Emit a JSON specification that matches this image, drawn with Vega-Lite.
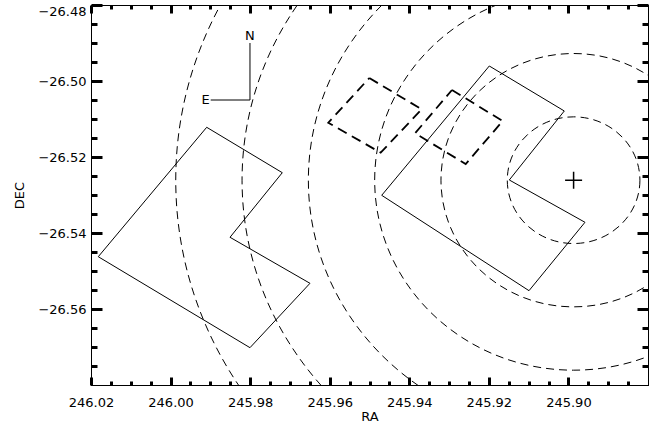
{
  "$schema": "https://vega.github.io/schema/vega-lite/v6.json",
  "width": 557,
  "height": 380,
  "autosize": "none",
  "padding": {"left": 91, "top": 5, "right": 6, "bottom": 38},
  "background": "white",
  "config": {
    "view": {"stroke": "black", "strokeWidth": 1},
    "axis": {
      "grid": false,
      "labelColor": "black",
      "titleColor": "black",
      "labelFont": "DejaVu Sans",
      "titleFont": "DejaVu Sans",
      "labelFontSize": 13,
      "titleFontSize": 13,
      "titleFontWeight": "normal",
      "labelOverlap": false
    }
  },
  "datasets": {
    "wfpc": [
      {"id": "left", "i": 0, "ra": 246.01817, "dec": -26.54624},
      {"id": "left", "i": 1, "ra": 245.99092, "dec": -26.51218},
      {"id": "left", "i": 2, "ra": 245.97192, "dec": -26.52413},
      {"id": "left", "i": 3, "ra": 245.98506, "dec": -26.54113},
      {"id": "left", "i": 4, "ra": 245.96496, "dec": -26.55324},
      {"id": "left", "i": 5, "ra": 245.98004, "dec": -26.57018},
      {"id": "left", "i": 6, "ra": 246.01817, "dec": -26.54624},
      {"id": "right", "i": 0, "ra": 245.94693, "dec": -26.53008},
      {"id": "right", "i": 1, "ra": 245.91989, "dec": -26.49605},
      {"id": "right", "i": 2, "ra": 245.90104, "dec": -26.50789},
      {"id": "right", "i": 3, "ra": 245.91486, "dec": -26.52605},
      {"id": "right", "i": 4, "ra": 245.89584, "dec": -26.53718},
      {"id": "right", "i": 5, "ra": 245.90991, "dec": -26.55518},
      {"id": "right", "i": 6, "ra": 245.94693, "dec": -26.53008}
    ],
    "boxes": [
      {"id": "A", "i": 0, "ra": 245.95005, "dec": -26.49921},
      {"id": "A", "i": 1, "ra": 245.93688, "dec": -26.50745},
      {"id": "A", "i": 2, "ra": 245.94719, "dec": -26.51887},
      {"id": "A", "i": 3, "ra": 245.96036, "dec": -26.51097},
      {"id": "A", "i": 4, "ra": 245.95005, "dec": -26.49921},
      {"id": "B", "i": 0, "ra": 245.92927, "dec": -26.50237},
      {"id": "B", "i": 1, "ra": 245.91652, "dec": -26.51053},
      {"id": "B", "i": 2, "ra": 245.92582, "dec": -26.52184},
      {"id": "B", "i": 3, "ra": 245.93856, "dec": -26.51376},
      {"id": "B", "i": 4, "ra": 245.92927, "dec": -26.50237}
    ],
    "circles": [
      {"ra": 245.8987, "dec": -26.5261, "r": 0.016667},
      {"ra": 245.8987, "dec": -26.5261, "r": 0.033333},
      {"ra": 245.8987, "dec": -26.5261, "r": 0.05},
      {"ra": 245.8987, "dec": -26.5261, "r": 0.066667},
      {"ra": 245.8987, "dec": -26.5261, "r": 0.083333},
      {"ra": 245.8987, "dec": -26.5261, "r": 0.1}
    ],
    "center": [
      {"ra": 245.8987, "dec": -26.5261}
    ],
    "compassLines": [
      {"ra": 245.98004, "dec": -26.49, "ra2": 245.98004, "dec2": -26.505},
      {"ra": 245.98991, "dec": -26.505, "ra2": 245.98004, "dec2": -26.505}
    ],
    "compassLabels": [
      {"label": "N", "ra": 245.98004, "dec": -26.48803},
      {"label": "E", "ra": 245.98991, "dec": -26.505}
    ]
  },
  "layer": [
    {
      "data": {"name": "wfpc"},
      "mark": {"type": "line", "stroke": "black", "strokeWidth": 1, "clip": true},
      "encoding": {
        "x": {
          "field": "ra", "type": "quantitative",
          "scale": {"domain": [245.88, 246.02], "reverse": true, "nice": false, "zero": false},
          "axis": {
            "orient": "bottom",
            "values": [246.02, 246.0, 245.98, 245.96, 245.94, 245.92, 245.9],
            "format": ".2f",
            "domainColor": "black",
            "tickColor": "black",
            "tickWidth": 3,
            "tickSize": -8,
            "labelPadding": 19,
            "labelFlush": false,
            "title": "RA",
            "titlePadding": 1
          }
        },
        "y": {
          "field": "dec", "type": "quantitative",
          "scale": {"domain": [-26.58, -26.48], "nice": false, "zero": false},
          "axis": {
            "orient": "left",
            "values": [-26.56, -26.54, -26.52, -26.5, -26.48],
            "format": ".2f",
            "domainColor": "black",
            "tickColor": "black",
            "tickWidth": 3,
            "tickSize": -11,
            "labelPadding": 16,
            "labelFlush": true,
            "title": "DEC",
            "titlePadding": 11
          }
        },
        "detail": {"field": "id"},
        "order": {"field": "i", "type": "quantitative"}
      }
    },
    {
      "data": {"name": "boxes"},
      "mark": {"type": "line", "stroke": "black", "strokeWidth": 1.8, "strokeDash": [10, 6], "clip": true},
      "encoding": {
        "x": {
          "field": "ra", "type": "quantitative",
          "axis": {
            "orient": "bottom",
            "values": [246.015, 246.01, 246.005, 245.995, 245.99, 245.985, 245.975, 245.97, 245.965, 245.955, 245.95, 245.945, 245.935, 245.93, 245.925, 245.915, 245.91, 245.905, 245.895, 245.89, 245.885],
            "domainColor": "black",
            "tickColor": "black",
            "tickWidth": 3,
            "tickSize": -4,
            "labels": false,
            "title": null
          }
        },
        "y": {
          "field": "dec", "type": "quantitative",
          "axis": {
            "orient": "left",
            "values": [-26.575, -26.57, -26.565, -26.555, -26.55, -26.545, -26.535, -26.53, -26.525, -26.515, -26.51, -26.505, -26.495, -26.49, -26.485],
            "domainColor": "black",
            "tickColor": "black",
            "tickWidth": 3,
            "tickSize": -6,
            "labels": false,
            "title": null
          }
        },
        "detail": {"field": "id"},
        "order": {"field": "i", "type": "quantitative"}
      }
    },
    {
      "data": {"name": "circles"},
      "mark": {
        "type": "point",
        "shape": "M1.047,0C1.047,0.5523,0.5783,1,0,1C-0.5783,1,-1.047,0.5523,-1.047,0C-1.047,-0.5523,-0.5783,-1,0,-1C0.5783,-1,1.047,-0.5523,1.047,0Z",
        "filled": false,
        "stroke": "black",
        "strokeWidth": 1,
        "strokeDash": [8, 5],
        "opacity": 1,
        "clip": true
      },
      "encoding": {
        "x": {
          "field": "ra", "type": "quantitative",
          "axis": {
            "orient": "top",
            "values": [246.02, 246.0, 245.98, 245.96, 245.94, 245.92, 245.9],
            "domainColor": "black",
            "tickColor": "black",
            "tickWidth": 3,
            "tickSize": -8,
            "labels": false,
            "title": null
          }
        },
        "y": {
          "field": "dec", "type": "quantitative",
          "axis": {
            "orient": "right",
            "values": [-26.56, -26.54, -26.52, -26.5, -26.48],
            "domainColor": "black",
            "tickColor": "black",
            "tickWidth": 3,
            "tickSize": -11,
            "labels": false,
            "title": null
          }
        },
        "size": {
          "field": "r", "type": "quantitative",
          "scale": {"type": "pow", "exponent": 2, "domain": [0, 0.1], "range": [0, 577600]},
          "legend": null
        }
      }
    },
    {
      "data": {"name": "center"},
      "mark": {
        "type": "point",
        "shape": "M-1,0L1,0M0,-1L0,1",
        "size": 289,
        "filled": false,
        "stroke": "black",
        "strokeWidth": 1.5,
        "opacity": 1
      },
      "encoding": {
        "x": {
          "field": "ra", "type": "quantitative",
          "axis": {
            "orient": "top",
            "values": [246.015, 246.01, 246.005, 245.995, 245.99, 245.985, 245.975, 245.97, 245.965, 245.955, 245.95, 245.945, 245.935, 245.93, 245.925, 245.915, 245.91, 245.905, 245.895, 245.89, 245.885],
            "domainColor": "black",
            "tickColor": "black",
            "tickWidth": 3,
            "tickSize": -4,
            "labels": false,
            "title": null
          }
        },
        "y": {
          "field": "dec", "type": "quantitative",
          "axis": {
            "orient": "right",
            "values": [-26.575, -26.57, -26.565, -26.555, -26.55, -26.545, -26.535, -26.53, -26.525, -26.515, -26.51, -26.505, -26.495, -26.49, -26.485],
            "domainColor": "black",
            "tickColor": "black",
            "tickWidth": 3,
            "tickSize": -6,
            "labels": false,
            "title": null
          }
        }
      }
    },
    {
      "data": {"name": "compassLines"},
      "mark": {"type": "rule", "stroke": "black", "strokeWidth": 1},
      "encoding": {
        "x": {"field": "ra", "type": "quantitative", "axis": null},
        "y": {"field": "dec", "type": "quantitative", "axis": null},
        "x2": {"field": "ra2"},
        "y2": {"field": "dec2"}
      }
    },
    {
      "data": {"name": "compassLabels"},
      "transform": [{"filter": "datum.label === 'N'"}],
      "mark": {"type": "text", "font": "DejaVu Sans", "fontSize": 13, "align": "center", "baseline": "middle", "color": "black"},
      "encoding": {
        "x": {"field": "ra", "type": "quantitative", "axis": null},
        "y": {"field": "dec", "type": "quantitative", "axis": null},
        "text": {"field": "label"}
      }
    },
    {
      "data": {"name": "compassLabels"},
      "transform": [{"filter": "datum.label === 'E'"}],
      "mark": {"type": "text", "font": "DejaVu Sans", "fontSize": 13, "align": "right", "baseline": "middle", "dx": -1, "color": "black"},
      "encoding": {
        "x": {"field": "ra", "type": "quantitative", "axis": null},
        "y": {"field": "dec", "type": "quantitative", "axis": null},
        "text": {"field": "label"}
      }
    }
  ],
  "resolve": {"axis": {"x": "independent", "y": "independent"}}
}
